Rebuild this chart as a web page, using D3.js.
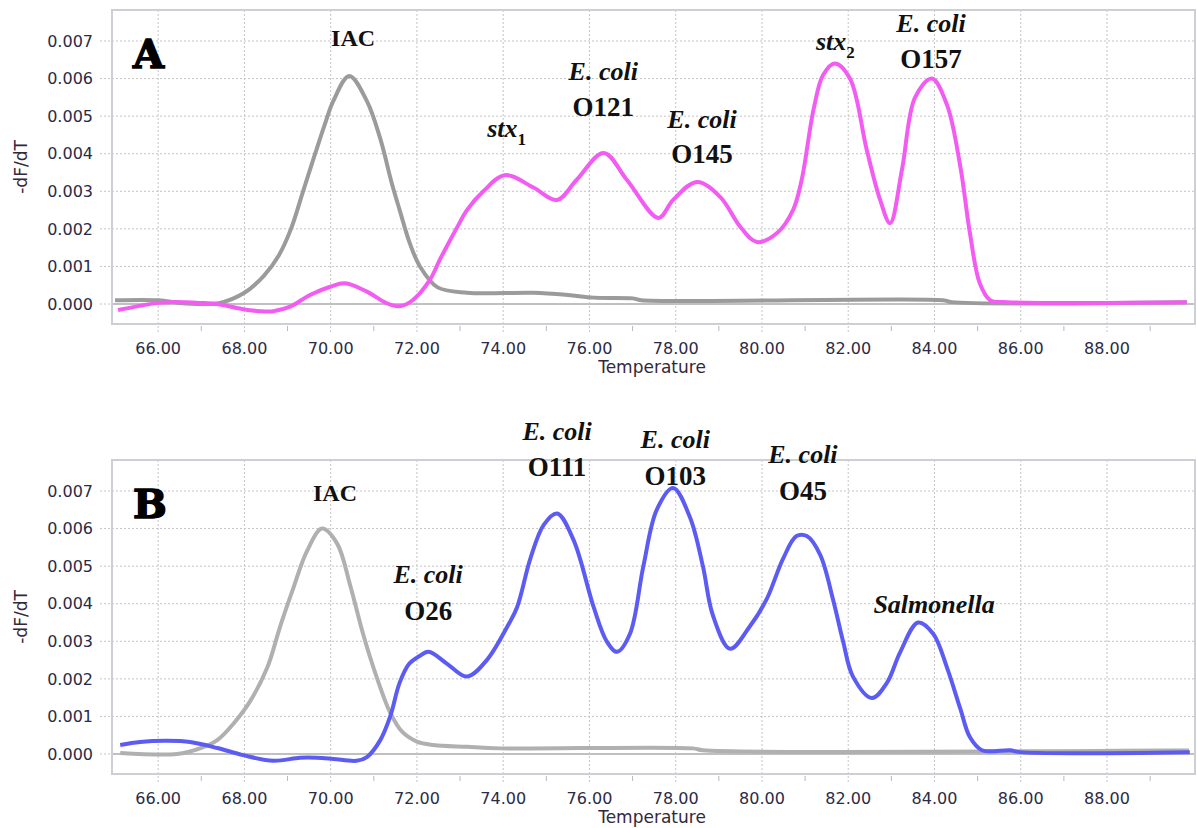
<!DOCTYPE html>
<html>
<head>
<meta charset="utf-8">
<script src="https://cdn.jsdelivr.net/npm/d3@7"></script>
<style>
  body { margin: 0; background: #fff; }
  .tick-label { font-family: "DejaVu Sans", Verdana, sans-serif; font-size: 16px; fill: #2b2b45; }
  .axis-title { font-family: "DejaVu Sans", Verdana, sans-serif; font-size: 17px; fill: #33283a; }
  .note { font-family: "Liberation Serif", Cambria, serif; font-weight: bold; font-size: 26px; fill: #111; }
  .note-i { font-style: italic; }
  .note-big { font-size: 27px; }
  .note-small { font-size: 24px; }
  .panel-letter { font-family: "DejaVu Serif", serif; font-weight: bold; font-size: 40px; fill: #000; stroke: #000; stroke-width: 1.5px; }
</style>
</head>
<body>
<svg id="chart" width="1197" height="828"></svg>
<script>
const X_TICKS = [66, 68, 70, 72, 74, 76, 78, 80, 82, 84, 86, 88];
const X_MINOR = [67, 69, 71, 73, 75, 77, 79, 81, 83, 85, 87, 89];
const Y_TICKS = [0, 0.001, 0.002, 0.003, 0.004, 0.005, 0.006, 0.007];

// Panel A: internal amplification control (grey)
const A_IAC = [[65.0,0.0001],[66.0,0.0001],[66.5,0.00003],[67.0,0.0],[67.4,0.00002],[68.0,0.0003],
  [68.45,0.00075],[68.8,0.0013],[69.08,0.002],[69.36,0.003],[69.64,0.004],[69.87,0.0048],[70.06,0.0054],
  [70.43,0.00607],[70.84,0.0054],[71.15,0.0044],[71.42,0.0032],[71.6,0.0025],[71.84,0.0016],[72.07,0.001],
  [72.47,0.00045],[73.16,0.0003],[74.7,0.0003],[75.5,0.00024],[76.1,0.00017],[77.0,0.00015],[77.2,0.0001],
  [84.2,0.0001],[84.4,0.00005],[89.85,0.00005]];
// Panel A: multiplex sample (magenta)
const A_MIX = [[65.07,-0.00016],[66.0,0.00003],[66.28,0.00005],[66.97,0.00003],[67.37,0.0],[67.97,-0.00014],
  [68.36,-0.00019],[68.67,-0.00019],[69.06,-0.00007],[69.52,0.00024],[69.99,0.00046],[70.33,0.00055],
  [70.84,0.00033],[71.3,0.00002],[71.6,-0.00006],[71.9,0.0001],[72.3,0.00064],[72.54,0.0012],[72.77,0.0017],
  [72.96,0.0021],[73.16,0.0025],[73.54,0.003],[74.04,0.00343],[74.7,0.0031],[75.25,0.00277],[75.7,0.0033],
  [76.33,0.00402],[76.87,0.0033],[77.6,0.00229],[77.94,0.00277],[78.49,0.00325],[79.03,0.00285],
  [79.5,0.00205],[79.88,0.00165],[80.35,0.00189],[80.72,0.0025],[80.92,0.0033],[81.2,0.0052],[81.42,0.0061],
  [81.69,0.0064],[82.04,0.006],[82.43,0.0041],[82.74,0.00277],[82.97,0.00215],[83.25,0.0036],[83.55,0.0055],
  [83.94,0.006],[84.29,0.0053],[84.6,0.00365],[84.82,0.0019],[85.05,0.00055],[85.29,0.0001],[85.68,0.00005],
  [89.85,0.00005]];

// Panel B: internal amplification control (grey)
const B_IAC = [[65.12,0.00003],[66.44,0.0],[66.97,0.00015],[67.37,0.00037],[67.74,0.0008],[68.13,0.0014],
  [68.53,0.0023],[68.83,0.0034],[69.13,0.0044],[69.45,0.0054],[69.8,0.006],[70.15,0.0056],[70.45,0.0045],
  [70.75,0.0032],[71.08,0.002],[71.38,0.0011],[71.65,0.0006],[72.0,0.00033],[72.38,0.00024],[73.16,0.00019],
  [73.93,0.00015],[78.4,0.00015],[78.63,0.0001],[89.9,0.0001]];
// Panel B: multiplex sample (blue)
const B_MIX = [[65.12,0.00024],[65.58,0.00032],[66.2,0.00035],[66.74,0.00032],[67.37,0.00016],[67.97,-0.00003],
  [68.67,-0.00018],[69.29,-0.0001],[69.68,-0.0001],[70.06,-0.00013],[70.6,-0.00018],[70.84,-0.00008],
  [71.15,0.00037],[71.38,0.001],[71.6,0.0019],[71.82,0.0024],[72.05,0.0026],[72.27,0.00272],[72.7,0.0024],
  [73.16,0.00206],[73.62,0.0025],[74.1,0.0034],[74.32,0.0039],[74.63,0.0052],[74.94,0.0061],[75.25,0.0064],
  [75.63,0.0057],[76.1,0.0039],[76.4,0.003],[76.64,0.00272],[76.94,0.0032],[77.25,0.005],[77.56,0.0065],
  [77.94,0.00708],[78.33,0.0063],[78.63,0.005],[78.86,0.0037],[79.26,0.0028],[79.72,0.0034],[80.1,0.0041],
  [80.49,0.0052],[80.8,0.0058],[81.04,0.0058],[81.35,0.0053],[81.65,0.0041],[81.88,0.003],[82.11,0.00206],
  [82.55,0.00149],[82.9,0.0019],[83.2,0.0027],[83.62,0.0035],[83.97,0.0032],[84.29,0.0023],[84.6,0.0012],
  [84.82,0.00045],[85.1,0.0001],[85.75,0.0001],[85.98,0.00005],[89.92,0.00005]];

// peak annotations: [temperature, value, text, italic]
const A_NOTES = [
  [70.52, 0.00687, "IAC", false],
  [76.32, 0.00596, "E. coli", true], [76.32, 0.0050, "O121", false],
  [78.61, 0.00468, "E. coli", true], [78.61, 0.00375, "O145", false],
  [83.92, 0.00724, "E. coli", true], [83.92, 0.00628, "O157", false]
];
const A_GENES = [[73.63, 0.00444, "stx", "1"], [81.25, 0.00676, "stx", "2"]];
const B_NOTES = [
  [70.10, 0.00673, "IAC", false],
  [72.26, 0.00455, "E. coli", true], [72.26, 0.00357, "O26", false],
  [75.25, 0.00836, "E. coli", true], [75.25, 0.0074, "O111", false],
  [77.99, 0.00815, "E. coli", true], [77.99, 0.00716, "O103", false],
  [80.95, 0.00775, "E. coli", true], [80.95, 0.00676, "O45", false],
  [83.99, 0.00375, "Salmonella", true]
];

const svg = d3.select("#chart");
const LEFT = 112, RIGHT = 1195;

function noteClass(d) {
  if (d[3]) return "note note-i";
  return d[2] === "IAC" ? "note note-small" : "note note-big";
}

function drawPanel(top, letter, iac, mix, mixColor, iacColor, notes, genes) {
  const g = svg.append("g").attr("transform", `translate(0, ${top})`);
  const boxTop = 10, boxBottom = 324;
  const x = d3.scaleLinear().domain([64.93, 90.04]).range([LEFT, RIGHT]);
  const y = d3.scaleLinear().domain([-0.000532, 0.007825]).range([boxBottom, boxTop]);

  // Grid
  g.append("g").selectAll("line").data(Y_TICKS.filter(d => d !== 0)).enter().append("line")
    .attr("x1", 100).attr("x2", RIGHT).attr("y1", d => y(d)).attr("y2", d => y(d))
    .attr("stroke", "#c4c4c4").attr("stroke-width", 1).attr("stroke-dasharray", "2,2");
  g.append("line").attr("x1", 100).attr("x2", LEFT).attr("y1", y(0)).attr("y2", y(0))
    .attr("stroke", "#c4c4c4").attr("stroke-dasharray", "2,2");
  g.append("line").attr("x1", LEFT).attr("x2", RIGHT).attr("y1", y(0)).attr("y2", y(0))
    .attr("stroke", "#c0c0c0").attr("stroke-width", 2);
  g.append("g").selectAll("line").data(X_TICKS).enter().append("line")
    .attr("x1", d => x(d)).attr("x2", d => x(d)).attr("y1", boxTop).attr("y2", boxBottom + 10)
    .attr("stroke", "#c4c4c4").attr("stroke-width", 1).attr("stroke-dasharray", "2,2");
  g.append("g").selectAll("line").data(X_MINOR).enter().append("line")
    .attr("x1", d => x(d)).attr("x2", d => x(d)).attr("y1", boxBottom + 2).attr("y2", boxBottom + 7)
    .attr("stroke", "#b8b8b8").attr("stroke-width", 1);

  // Frame
  g.append("rect").attr("x", LEFT).attr("y", boxTop).attr("width", RIGHT - LEFT).attr("height", boxBottom - boxTop)
    .attr("fill", "none").attr("stroke", "#ccd0d4").attr("stroke-width", 2);

  // Tick labels
  g.append("g").selectAll("text").data(Y_TICKS).enter().append("text")
    .attr("class", "tick-label").attr("x", 93).attr("y", d => y(d)).attr("dy", "0.36em")
    .attr("text-anchor", "end").text(d => d3.format(".3f")(d));
  g.append("g").selectAll("text").data(X_TICKS).enter().append("text")
    .attr("class", "tick-label").attr("x", d => x(d)).attr("y", 354)
    .attr("text-anchor", "middle").text(d => d3.format(".2f")(d));

  g.append("text").attr("class", "axis-title").attr("text-anchor", "middle")
    .attr("transform", `translate(27, ${(boxTop + boxBottom) / 2}) rotate(-90)`).text("-dF/dT");
  g.append("text").attr("class", "axis-title").attr("text-anchor", "middle")
    .attr("x", 652).attr("y", 373).text("Temperature");

  // Curves
  const line = d3.line().x(d => x(d[0])).y(d => y(d[1])).curve(d3.curveCatmullRom.alpha(0.5));
  g.append("path").datum(iac).attr("d", line).attr("fill", "none")
    .attr("stroke", iacColor).attr("stroke-width", 4).attr("stroke-linejoin", "round");
  g.append("path").datum(mix).attr("d", line).attr("fill", "none")
    .attr("stroke", mixColor).attr("stroke-width", 4).attr("stroke-linejoin", "round");

  // Annotations
  g.append("text").attr("class", "panel-letter").attr("x", 133).attr("y", 68).text(letter);
  g.append("g").selectAll("text").data(notes).enter().append("text")
    .attr("class", noteClass)
    .attr("x", d => x(d[0])).attr("y", d => y(d[1])).attr("text-anchor", "middle")
    .text(d => d[2]);
  const gene = g.append("g").selectAll("text").data(genes).enter().append("text")
    .attr("class", "note note-i").attr("x", d => x(d[0])).attr("y", d => y(d[1]));
  gene.append("tspan").text(d => d[2]);
  gene.append("tspan").attr("dy", 8).attr("font-size", 17).attr("font-style", "normal").text(d => d[3]);
}

drawPanel(0, "A", A_IAC, A_MIX, "#f25cf2", "#9b9b9b", A_NOTES, A_GENES);
drawPanel(450, "B", B_IAC, B_MIX, "#5c5cf2", "#b0b0b0", B_NOTES, []);
</script>
</body>
</html>
